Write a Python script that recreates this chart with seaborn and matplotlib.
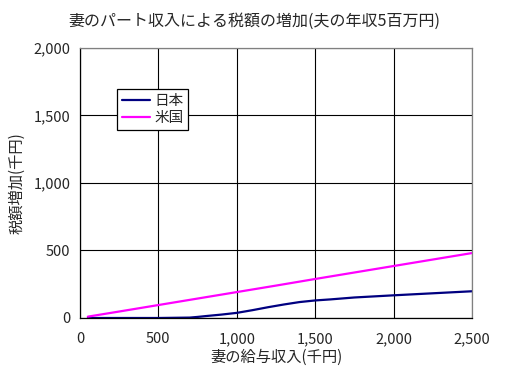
import pandas as pd
import seaborn as sns
import matplotlib.pyplot as plt
from matplotlib.ticker import StrMethodFormatter

# wife's salary income (thousand yen) and resulting tax increase (thousand yen)
income_jp = [50, 250, 500, 700, 750, 800, 900, 1000, 1100, 1200, 1300, 1400,
             1500, 1600, 1750, 2000, 2250, 2500]
tax_jp = [0, 0, 0, 3, 8, 14, 25, 38, 58, 80, 100, 118,
          130, 138, 152, 168, 183, 198]

income_us = [50, 250, 500, 750, 1000, 1250, 1500, 1750, 2000, 2250, 2500]
tax_us = [10, 48, 96, 144, 192, 240, 289, 337, 385, 433, 481]

series_names = ["日本", "米国"]
series_colors = ["#000080", "#FF00FF"]

df = pd.concat([
    pd.DataFrame({"income": income_jp, "tax": tax_jp, "country": series_names[0]}),
    pd.DataFrame({"income": income_us, "tax": tax_us, "country": series_names[1]}),
])

sns.set_style("white")
plt.rcParams['font.family'] = ['Noto Sans CJK JP', 'DejaVu Sans']

fig = plt.figure(figsize=(5.08, 3.77), dpi=100)
ax = fig.add_axes([0.1575, 0.1565, 0.7715, 0.7162])

sns.lineplot(data=df, x="income", y="tax", hue="country",
             palette=dict(zip(series_names, series_colors)),
             linewidth=1.6, ax=ax, sort=True)

ax.set_xlim(0, 2500)
ax.set_ylim(0, 2000)
ax.set_xticks(range(0, 2501, 500))
ax.set_yticks(range(0, 2001, 500))
ax.xaxis.set_major_formatter(StrMethodFormatter("{x:,.0f}"))
ax.yaxis.set_major_formatter(StrMethodFormatter("{x:,.0f}"))
ax.tick_params(axis="y", length=4, width=0.8, color="black", pad=3, labelsize=10.5)
ax.tick_params(axis="x", length=0, pad=10, labelsize=10.5)
ax.grid(True, color="black", linewidth=0.8)

for side in ["left", "bottom"]:
    ax.spines[side].set_color("black")
    ax.spines[side].set_linewidth(0.9)
for side in ["top", "right"]:
    ax.spines[side].set_color("#808080")
    ax.spines[side].set_linewidth(0.9)

ax.set_xlabel("妻の給与収入(千円)", fontsize=11, labelpad=2)
ax.set_ylabel("税額増加(千円)", fontsize=11, labelpad=6)
fig.suptitle("妻のパート収入による税額の増加(夫の年収5百万円)", fontsize=11.5, y=0.965)

leg = ax.legend(loc="upper left", bbox_to_anchor=(0.094, 0.848), borderaxespad=0,
                fontsize=10.5, frameon=True, fancybox=False, handlelength=1.9,
                handletextpad=0.3, borderpad=0.35, labelspacing=0.2)
leg.get_frame().set_edgecolor("black")
leg.get_frame().set_linewidth(0.9)
leg.get_frame().set_alpha(1)

fig.savefig("out.png", dpi=100)
